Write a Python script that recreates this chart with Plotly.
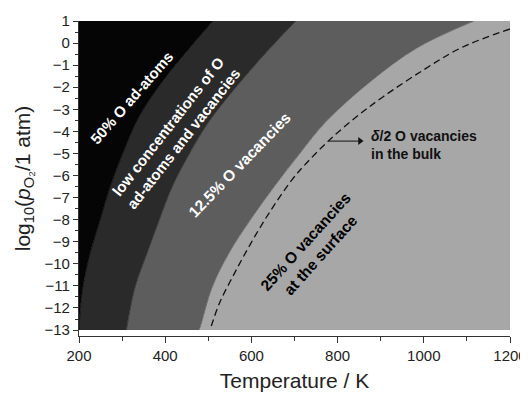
import plotly.graph_objects as go

# Phase boundaries (temperature in K, log10 p)
b1_T = [511, 457, 393, 339, 302, 272, 249, 226, 209, 201, 200]
b1_p = [1.0, -0.22, -1.76, -3.35, -4.98, -6.52, -8.02, -9.51, -11.05, -12.55, -13.0]

b2_T = [703, 608, 504, 457, 416, 386, 358, 330, 311, 310]
b2_p = [1.0, -1.0, -3.49, -4.98, -6.52, -8.02, -9.51, -11.05, -12.87, -13.0]

b3_T = [1116, 984, 875, 772, 713, 652, 597, 548, 509, 481, 478]
b3_p = [1.0, -0.22, -1.76, -3.58, -4.98, -6.52, -8.02, -9.51, -11.05, -12.87, -13.0]

bulk_T = [1200, 1086, 999, 905, 843, 781, 728, 694, 641, 599, 561, 526, 504]
bulk_p = [0.64, -0.22, -1.22, -2.44, -3.35, -4.39, -5.43, -6.2, -7.7, -9.06, -10.42, -11.78, -13.0]

arrow_T = [780, 852]
arrow_p = [-4.44, -4.44]

T_min, T_max = 200, 1200
p_min, p_max = -13.0, 1.0

colors = ["#050505", "#2a2a2a", "#5d5d5d", "#a7a7a7"]

fig = go.Figure()

# left edge of the diagram
fig.add_trace(go.Scatter(x=[T_min, T_min], y=[p_max, p_min], mode="lines",
                         line=dict(color=colors[0], width=0.5), hoverinfo="skip", showlegend=False))
# phase regions filled between successive boundaries
for bT, bp, col in [(b1_T, b1_p, colors[0]), (b2_T, b2_p, colors[1]), (b3_T, b3_p, colors[2])]:
    fig.add_trace(go.Scatter(x=bT, y=bp, mode="lines", fill="tonextx", fillcolor=col,
                             line=dict(color=col, width=0.8, shape="spline", smoothing=1.0),
                             hoverinfo="skip", showlegend=False))
# right edge
fig.add_trace(go.Scatter(x=[T_max, T_max], y=[p_max, p_min], mode="lines", fill="tonextx",
                         fillcolor=colors[3], line=dict(color=colors[3], width=0.5),
                         hoverinfo="skip", showlegend=False))

fig.add_trace(go.Scatter(x=bulk_T, y=bulk_p, mode="lines",
                         line=dict(color="#111111", width=1.3, dash="7px,4px", shape="spline", smoothing=1.0),
                         hoverinfo="skip", showlegend=False))

# arrow
fig.add_trace(go.Scatter(x=arrow_T, y=arrow_p, mode="lines", line=dict(color="#111", width=1),
                         hoverinfo="skip", showlegend=False))
fig.add_trace(go.Scatter(x=[arrow_T[-1]], y=[arrow_p[-1]], mode="markers",
                         marker=dict(symbol="triangle-right", size=7, color="#111"),
                         hoverinfo="skip", showlegend=False))

font = "Liberation Sans, Arial, sans-serif"

labels = [
    dict(x=322, y=-2.45, text="<b>50% O ad-atoms</b>", textangle=-49, color="white", size=15),
    dict(x=425, y=-4.05, text="<b>low concentrations of O<br>ad-atoms and vacancies</b>", textangle=-52, color="white", size=15),
    dict(x=573, y=-5.5, text="<b>12.5% O vacancies</b>", textangle=-46, color="white", size=15.5),
    dict(x=742, y=-9.3, text="<b>25% O vacancies<br>at the surface</b>", textangle=-48, color="black", size=15.5),
]
for L in labels:
    fig.add_annotation(x=L["x"], y=L["y"], text=L["text"], textangle=L["textangle"],
                       showarrow=False, font=dict(family=font, size=L["size"], color=L["color"]))

fig.add_annotation(x=872, y=-4.6, text="<b><i>δ</i>/2 O vacancies<br>in the bulk</b>", showarrow=False,
                   xanchor="left", align="left", font=dict(family=font, size=14, color="#111"))

# the page body adds an 8px offset, so the figure is sized to compensate
fig.update_layout(
    width=520, height=388,
    margin=dict(l=71, r=18, t=13, b=60),
    paper_bgcolor="white", plot_bgcolor="white",
    font=dict(family=font, color="#222"),
    xaxis=dict(range=[T_min, T_max], dtick=200, tick0=200, showgrid=False, zeroline=False,
               showline=True, linecolor="#333", linewidth=1.3, ticks="outside", ticklen=6,
               tickcolor="#333", tickfont=dict(size=15), automargin=False,
               minor=dict(dtick=100, ticks="outside", ticklen=4, tickcolor="#333"),
               title=dict(text="Temperature / K", font=dict(size=21), standoff=10)),
    yaxis=dict(range=[-13.27, 1], dtick=1, tick0=1, showgrid=False, zeroline=False,
               showline=True, linecolor="#333", linewidth=1.3, ticks="outside", ticklen=5,
               tickcolor="#333", tickfont=dict(size=15), automargin=False,
               minor=dict(dtick=0.5, ticks="outside", ticklen=3, tickcolor="#333"),
               title=dict(text="log<sub>10</sub>(<i>p</i><sub>O₂</sub>/1 atm)", font=dict(size=21), standoff=8)),
)

fig.write_html("out.html")
